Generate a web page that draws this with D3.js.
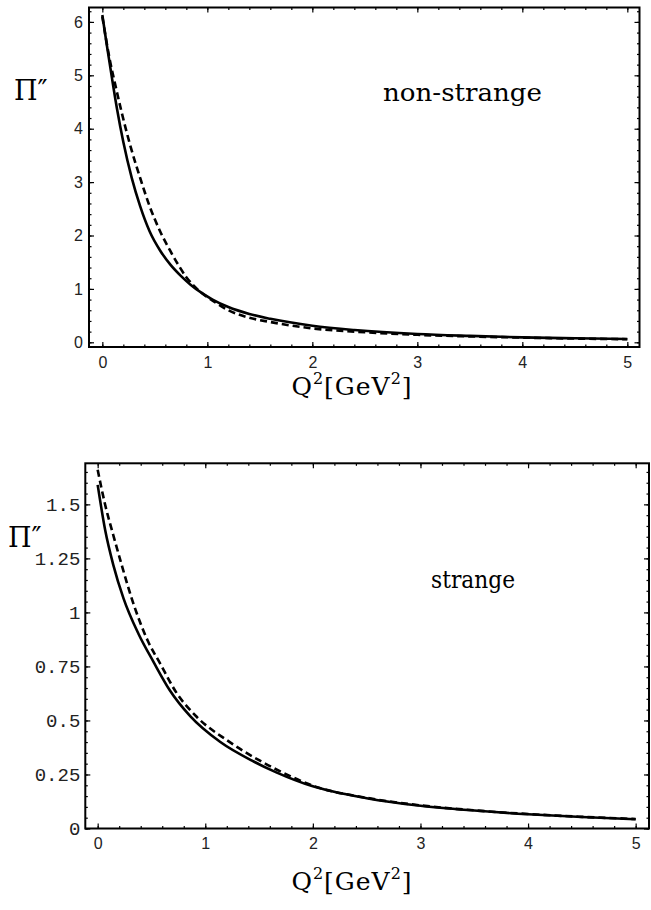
<!DOCTYPE html>
<html><head><meta charset="utf-8">
<script src="https://cdn.jsdelivr.net/npm/d3@7"></script>
<style>body{margin:0;background:#fff}svg{display:block}</style>
</head><body>
<script>
// ---- data ----
const nsSolidQ2 = [0,0.04,0.09,0.14,0.2,0.28,0.36,0.45,0.55,0.65,0.75,0.84,0.95,1.05,1.2,1.4,1.6,2.0,2.4,3.0,3.5,4.0,4.5,5.0];
const nsSolidPi = [6.13,5.6,4.97,4.37,3.75,3.08,2.55,2.08,1.72,1.45,1.24,1.08,0.92,0.8,0.66,0.53,0.44,0.31,0.23,0.155,0.12,0.093,0.075,0.062];
const nsDashQ2 = [0,0.07,0.12,0.185,0.264,0.36,0.45,0.55,0.645,0.73,0.8,0.87,0.95,1.05,1.2,1.4,1.6,2.0,2.4,3.0,3.5,4.0,4.5,5.0];
const nsDashPi = [6.1,5.3,4.85,4.3,3.7,3.08,2.55,2.08,1.72,1.43,1.22,1.06,0.92,0.78,0.6,0.46,0.38,0.26,0.2,0.14,0.11,0.088,0.07,0.058];
const sSolidQ2 = [0,0.07,0.145,0.24,0.38,0.52,0.67,0.86,1.14,1.45,1.66,2.0,2.5,3.0,3.5,4.0,4.5,5.0];
const sSolidPi = [1.59,1.38,1.22,1.065,0.9,0.77,0.64,0.52,0.4,0.31,0.26,0.195,0.14,0.105,0.083,0.066,0.053,0.043];
const sDashQ2 = [0,0.07,0.145,0.223,0.316,0.47,0.58,0.73,0.92,1.2,1.5,1.8,2.0,2.5,3.0,3.5,4.0,4.5,5.0];
const sDashPi = [1.66,1.497,1.358,1.22,1.065,0.864,0.764,0.63,0.517,0.409,0.316,0.24,0.198,0.142,0.107,0.084,0.067,0.054,0.044];
const xTicks = [0,1,2,3,4,5];
const nsYTicks = [0,1,2,3,4,5,6];
const sYTicks = [0,0.25,0.5,0.75,1,1.25,1.5];
const sYTickLabels = ["0","0.25","0.5","0.75","1","1.25","1.5"];
const xLabelMain = "Q", xLabelUnit = "GeV";
const yLabel = "Π″";
const panelNames = ["non-strange","strange"];

const SERIF = "'DejaVu Serif', 'Liberation Serif', serif";
const SANS = "'Liberation Sans', Arial, sans-serif";
const MONO = "'Liberation Mono', 'DejaVu Sans Mono', monospace";

const svg = d3.select("body").append("svg").attr("width",651).attr("height",910);

function zip(a,b){return a.map((v,i)=>[v,b[i]]);}
function range(a,b,s){const r=[];for(let v=a;v<=b+1e-9;v+=s)r.push(+v.toFixed(4));return r;}

function panel(cfg){
  const g = svg.append("g");
  const x = d3.scaleLinear().domain(cfg.xDom).range([cfg.left,cfg.right]);
  const y = d3.scaleLinear().domain(cfg.yDom).range([cfg.bottom,cfg.top]);
  const xMinor = range(0,5.2,0.2).filter(v=>v>=cfg.xDom[0]&&v<=cfg.xDom[1]);
  const yMinor = range(0,cfg.yDom[1],cfg.yMinorStep).filter(v=>v>=cfg.yDom[0]&&v<=cfg.yDom[1]);
  function ax(gen, scale, vals, size, tr){
    const a = gen(scale).tickValues(vals).tickSize(size).tickFormat("");
    const s = g.append("g").attr("transform",tr).call(a);
    s.select(".domain").remove();
    s.selectAll("line").attr("stroke","#000").attr("stroke-width",1.2);
    return s;
  }
  // minor ticks
  ax(d3.axisBottom,x,xMinor,-2.5,`translate(0,${cfg.bottom})`);
  ax(d3.axisTop,x,xMinor,-2.5,`translate(0,${cfg.top})`);
  ax(d3.axisLeft,y,yMinor,-2.5,`translate(${cfg.left},0)`);
  ax(d3.axisRight,y,yMinor,-2.5,`translate(${cfg.right},0)`);
  // major ticks
  const xb = d3.axisBottom(x).tickValues(xTicks).tickSize(-5).tickPadding(cfg.xPad).tickFormat(d3.format("d"));
  const xs = g.append("g").attr("transform",`translate(0,${cfg.bottom})`).call(xb);
  xs.select(".domain").remove();
  xs.selectAll("line").attr("stroke","#000").attr("stroke-width",1.2);
  xs.selectAll("text").attr("font-family",SANS).attr("font-size",16).attr("fill","#222");
  ax(d3.axisTop,x,xTicks,-5,`translate(0,${cfg.top})`);
  const yl = d3.axisLeft(y).tickValues(cfg.yTicks).tickSize(-5).tickPadding(cfg.yPad).tickFormat((d,i)=>cfg.yTickLabels[i]);
  const ys = g.append("g").attr("transform",`translate(${cfg.left},0)`).call(yl);
  ys.select(".domain").remove();
  ys.selectAll("line").attr("stroke","#000").attr("stroke-width",1.2);
  ys.selectAll("text").attr("font-family",cfg.yFont).attr("font-size",cfg.yFontSize).attr("fill","#222");
  ax(d3.axisRight,y,cfg.yTicks,-5,`translate(${cfg.right},0)`);
  // frame
  g.append("rect").attr("x",cfg.left).attr("y",cfg.top).attr("width",cfg.right-cfg.left).attr("height",cfg.bottom-cfg.top)
    .attr("fill","none").attr("stroke","#000").attr("stroke-width",2);
  // curves
  const line = d3.line().x(d=>x(d[0])).y(d=>y(d[1])).curve(d3.curveMonotoneX);
  g.append("path").datum(zip(cfg.dashQ,cfg.dashP)).attr("d",line).attr("fill","none").attr("stroke","#000")
    .attr("stroke-width",2.6).attr("stroke-dasharray","7,4");
  g.append("path").datum(zip(cfg.solidQ,cfg.solidP)).attr("d",line).attr("fill","none").attr("stroke","#000")
    .attr("stroke-width",2.6);
  // labels
  g.append("text").attr("x",cfg.yLabX).attr("y",cfg.yLabY).attr("font-family",SERIF)
    .attr("font-size",27).text(yLabel);
  const xl = g.append("text").attr("x",352).attr("y",cfg.xLabY).attr("text-anchor","middle")
    .attr("font-family",SERIF).attr("font-size",25).attr("letter-spacing",1);
  xl.append("tspan").text(xLabelMain);
  xl.append("tspan").attr("font-size",16).attr("dy",-11).text("2");
  xl.append("tspan").attr("dy",11).text("["+xLabelUnit);
  xl.append("tspan").attr("font-size",16).attr("dy",-11).text("2");
  xl.append("tspan").attr("dy",11).text("]");
  g.append("text").attr("x",cfg.nameX).attr("y",cfg.nameY).attr("font-family",SERIF)
    .attr("font-size",cfg.nameSize).attr("textLength",cfg.nameW).attr("lengthAdjust","spacingAndGlyphs").text(cfg.name);
}

panel({left:89,right:639.5,top:7.5,bottom:347,xDom:[-0.127,5.116],yDom:[-0.088,6.27],yMinorStep:0.2,
  yTicks:nsYTicks,yTickLabels:nsYTicks.map(String),yFont:SANS,yFontSize:16,
  yPad:6,xPad:10,solidQ:nsSolidQ2,solidP:nsSolidPi,dashQ:nsDashQ2,dashP:nsDashPi,
  yLabX:14,yLabY:100,xLabY:395,name:panelNames[0],nameX:383,nameY:101,nameW:159,nameSize:25});
panel({left:85.3,right:649,top:463.3,bottom:828.5,xDom:[-0.115,5.124],yDom:[0,1.69],yMinorStep:0.05,
  yTicks:sYTicks,yTickLabels:sYTickLabels,yFont:MONO,yFontSize:19,
  yPad:5,xPad:9,solidQ:sSolidQ2,solidP:sSolidPi,dashQ:sDashQ2,dashP:sDashPi,
  yLabX:8,yLabY:547,xLabY:890,name:panelNames[1],nameX:431,nameY:588,nameW:84,nameSize:25});
</script>
</body></html>
